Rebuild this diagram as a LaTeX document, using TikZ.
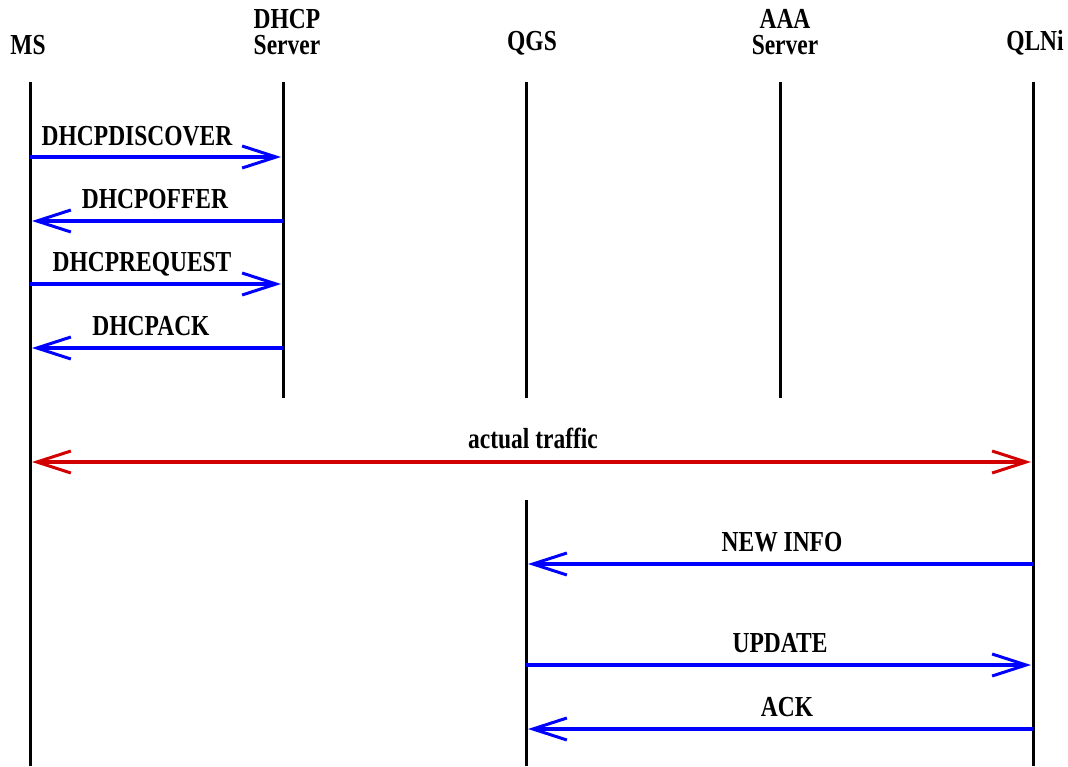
\documentclass[tikz,border=0pt]{standalone}
\usepackage{fontspec}
\setmainfont{Liberation Serif}[FakeStretch=0.81]
\usetikzlibrary{arrows.meta}
\definecolor{msgblue}{RGB}{0,0,255}
\definecolor{trafficred}{RGB}{210,0,0}
\tikzset{
  head/.style={anchor=south, inner sep=0pt, align=center,
    font=\fontsize{29}{26}\selectfont\bfseries},
  lbl/.style={anchor=base, inner sep=0pt,
    font=\fontsize{29}{26}\selectfont\bfseries},
  life/.style={line width=3pt, black},
  tip/.style={Straight Barb[length=34pt, width=22pt, line width=3pt]},
  msg/.style={line width=4pt, msgblue, -{Straight Barb[length=34pt, width=22pt, line width=3pt]}, shorten >=2pt},
  traffic/.style={line width=4pt, trafficred,
    {Straight Barb[length=34pt, width=22pt, line width=3pt]}-{Straight Barb[length=34pt, width=22pt, line width=3pt]},
    shorten <=2pt, shorten >=2pt}
}
\begin{document}
\begin{tikzpicture}[x=1pt, y=-1pt]
  \useasboundingbox (0,0) rectangle (1068,766);

  % entity headings
  \node[head] (msH)   at (28,55)   {MS};
  \node[head] (dhcpH) at (287,55)  {DHCP\\Server};
  \node[head] (qgsH)  at (532,55)  {QGS};
  \node[head] (aaaH)  at (785,55)  {AAA\\Server};
  \node[head] (qlniH) at (1035,55) {QLNi};

  % lifelines
  \coordinate (msT)   at (30,82);   \coordinate (msB)   at (30,766);
  \coordinate (dhcpT) at (283,82);  \coordinate (dhcpB) at (283,398);
  \coordinate (qgsT)  at (526,82);  \coordinate (qgsB)  at (526,398);
  \coordinate (qgsT2) at (526,500); \coordinate (qgsB2) at (526,766);
  \coordinate (aaaT)  at (780,82);  \coordinate (aaaB)  at (780,398);
  \coordinate (qlT)   at (1033,82); \coordinate (qlB)   at (1033,766);
  \draw[life] (msT) -- (msB);
  \draw[life] (dhcpT) -- (dhcpB);
  \draw[life] (qgsT) -- (qgsB);
  \draw[life] (qgsT2) -- (qgsB2);
  \draw[life] (aaaT) -- (aaaB);
  \draw[life] (qlT) -- (qlB);

  % DHCP exchange
  \coordinate (m1a) at (30,157);  \coordinate (m1b) at (283,157);
  \coordinate (m2a) at (283,221); \coordinate (m2b) at (30,221);
  \coordinate (m3a) at (30,284);  \coordinate (m3b) at (283,284);
  \coordinate (m4a) at (283,348); \coordinate (m4b) at (30,348);
  \draw[msg] (m1a) -- (m1b);
  \draw[msg] (m2a) -- (m2b);
  \draw[msg] (m3a) -- (m3b);
  \draw[msg] (m4a) -- (m4b);
  \node[lbl] (l1) at (137,145) {DHCPDISCOVER};
  \node[lbl] (l2) at (155,208) {DHCPOFFER};
  \node[lbl] (l3) at (142,271) {DHCPREQUEST};
  \node[lbl] (l4) at (151,335) {DHCPACK};

  % user traffic
  \coordinate (ta) at (30,462); \coordinate (tb) at (1033,462);
  \draw[traffic] (ta) -- (tb);
  \node[lbl] (lt) at (533,448) {actual traffic};

  % information update
  \coordinate (m5a) at (1033,564); \coordinate (m5b) at (526,564);
  \coordinate (m6a) at (526,665);  \coordinate (m6b) at (1033,665);
  \coordinate (m7a) at (1033,729); \coordinate (m7b) at (526,729);
  \draw[msg] (m5a) -- (m5b);
  \draw[msg] (m6a) -- (m6b);
  \draw[msg] (m7a) -- (m7b);
  \node[lbl] (l5) at (782,551) {NEW INFO};
  \node[lbl] (l6) at (780,652) {UPDATE};
  \node[lbl] (l7) at (787,716) {ACK};
\end{tikzpicture}
\end{document}
